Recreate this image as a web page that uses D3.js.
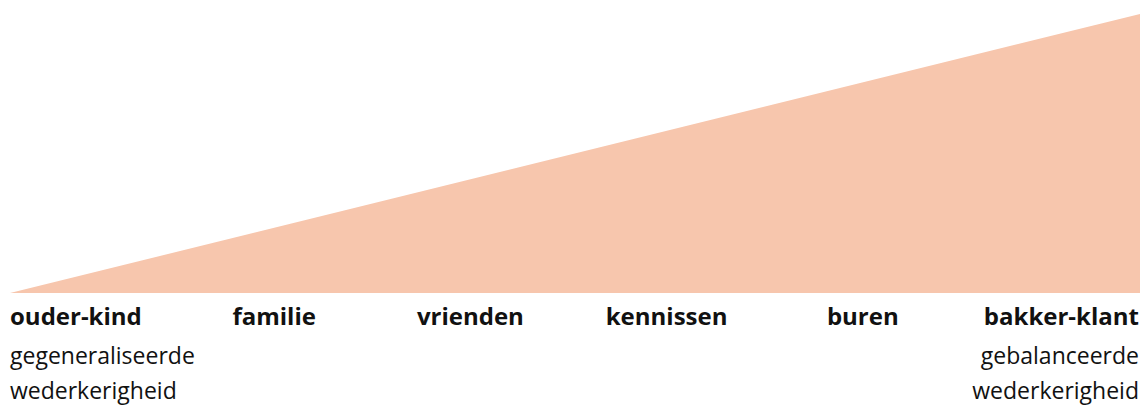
<!DOCTYPE html>
<html>
<head>
<meta charset="utf-8">
<script src="https://cdn.jsdelivr.net/npm/d3@7"></script>
<style>
  body { margin: 0; background: #fff; }
  svg { display: block; font-family: "Open Sans", "Noto Sans", sans-serif; }
</style>
</head>
<body>
<svg id="chart" width="1146" height="407"></svg>
<script>
/* relaties van links (gegeneraliseerd) naar rechts (gebalanceerd) */
const categories = ['ouder-kind', 'familie', 'vrienden', 'kennissen', 'buren', 'bakker-klant']
/* mate van wederkerigheid: begin en eind van de driehoek */
const reciprocity_pos = [0, 5]
const reciprocity_val = [0, 1]
const end_labels = [
    ['gegeneraliseerde', 'wederkerigheid'],
    ['gebalanceerde', 'wederkerigheid']
]

const svg = d3.select('#chart')

const fill_color = '#f7c6ad'
const pad_left = 10, pad_right = 1140, pad_top = 14, pad_base = 293

/* x: index van de categorie, y: wederkerigheid */
const x = d3.scaleLinear().domain([0, 5]).range([pad_left, pad_right])
const y = d3.scaleLinear().domain([0, 1]).range([pad_base, pad_top])

const area = d3.area()
    .x(d => x(d[0]))
    .y0(y(0))
    .y1(d => y(d[1]))

svg.append('path')
    .datum(reciprocity_pos.map((p, i) => [p, reciprocity_val[i]]))
    .attr('d', area)
    .attr('fill', fill_color)

/* labels onder de driehoek, gelijk verdeeld */
const label_x = d3.scalePoint()
    .domain(categories)
    .range([78, 1059])

svg.append('g')
    .selectAll('text')
    .data(categories)
    .join('text')
    .attr('x', (d, i) => i == 0 ? pad_left : i == categories.length - 1 ? pad_right - 1 : label_x(d))
    .attr('y', 325)
    .attr('text-anchor', (d, i) => i == 0 ? 'start' : i == categories.length - 1 ? 'end' : 'middle')
    .style('font-size', '24px')
    .style('font-weight', 'bold')
    .attr('fill', '#111')
    .text(d => d)

/* onderschriften links en rechts */
end_labels.forEach((lines, k) => {
    svg.append('text')
        .attr('x', k == 0 ? pad_left : pad_right - 1)
        .attr('y', 364)
        .attr('text-anchor', k == 0 ? 'start' : 'end')
        .style('font-size', '23px')
        .attr('fill', '#111')
        .selectAll('tspan')
        .data(lines)
        .join('tspan')
        .attr('x', k == 0 ? pad_left : pad_right - 1)
        .attr('dy', (d, i) => i == 0 ? 0 : 35)
        .text(d => d)
})
</script>
</body>
</html>
